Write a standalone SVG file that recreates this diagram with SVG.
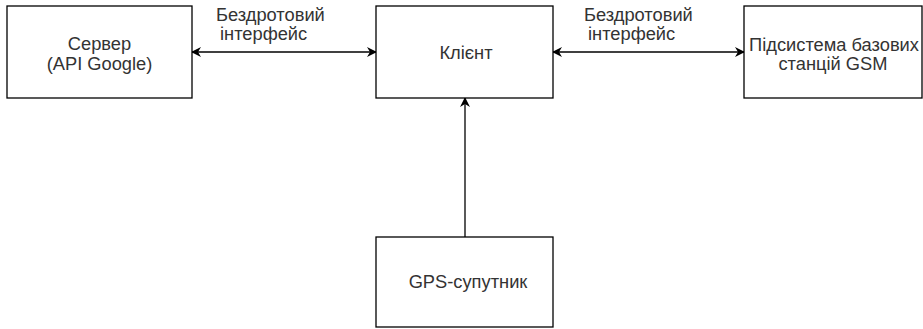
<svg xmlns="http://www.w3.org/2000/svg" width="923" height="329" viewBox="0 0 923 329">
<style>
.box{fill:#fff;stroke:#000;stroke-width:1.3}
.t{font-family:"Liberation Sans",Arial,sans-serif;font-size:18.3px;fill:#333}
.c{text-anchor:middle}
.e{stroke:#000;stroke-width:1.3;fill:none}
</style>
<defs>
<marker id="ah" viewBox="0 0 10 10" refX="9" refY="5" markerWidth="10" markerHeight="10" markerUnits="userSpaceOnUse" orient="auto-start-reverse">
<path d="M0,0 L10,5 L0,10 L3,5 Z" fill="#000"/>
</marker>
</defs>
<rect width="923" height="329" fill="#fff"/>
<g id="edges">
<line class="e" x1="192" y1="52" x2="376" y2="52" marker-start="url(#ah)" marker-end="url(#ah)"/>
<line class="e" x1="553" y1="52" x2="744" y2="52" marker-start="url(#ah)" marker-end="url(#ah)"/>
<line class="e" x1="465" y1="237" x2="465" y2="98" marker-end="url(#ah)"/>
<text class="t" x="216" y="21">Бездротовий</text>
<text class="t" x="220" y="40">інтерфейс</text>
<text class="t" x="584" y="21">Бездротовий</text>
<text class="t" x="588" y="40">інтерфейс</text>
</g>
<g id="server">
<rect class="box" x="7" y="6" width="185" height="92"/>
<text class="t c" x="99.5" y="50">Сервер</text>
<text class="t c" x="99.5" y="70">(API Google)</text>
</g>
<g id="client">
<rect class="box" x="376" y="6" width="177" height="92"/>
<text class="t c" x="466" y="59">Клієнт</text>
</g>
<g id="gsm">
<rect class="box" x="744" y="6" width="178" height="92"/>
<text class="t c" x="834" y="51">Підсистема базових</text>
<text class="t c" x="833" y="70">станцій GSM</text>
</g>
<g id="gps">
<rect class="box" x="376" y="237" width="177" height="90"/>
<text class="t c" x="468" y="288">GPS-супутник</text>
</g>
</svg>
